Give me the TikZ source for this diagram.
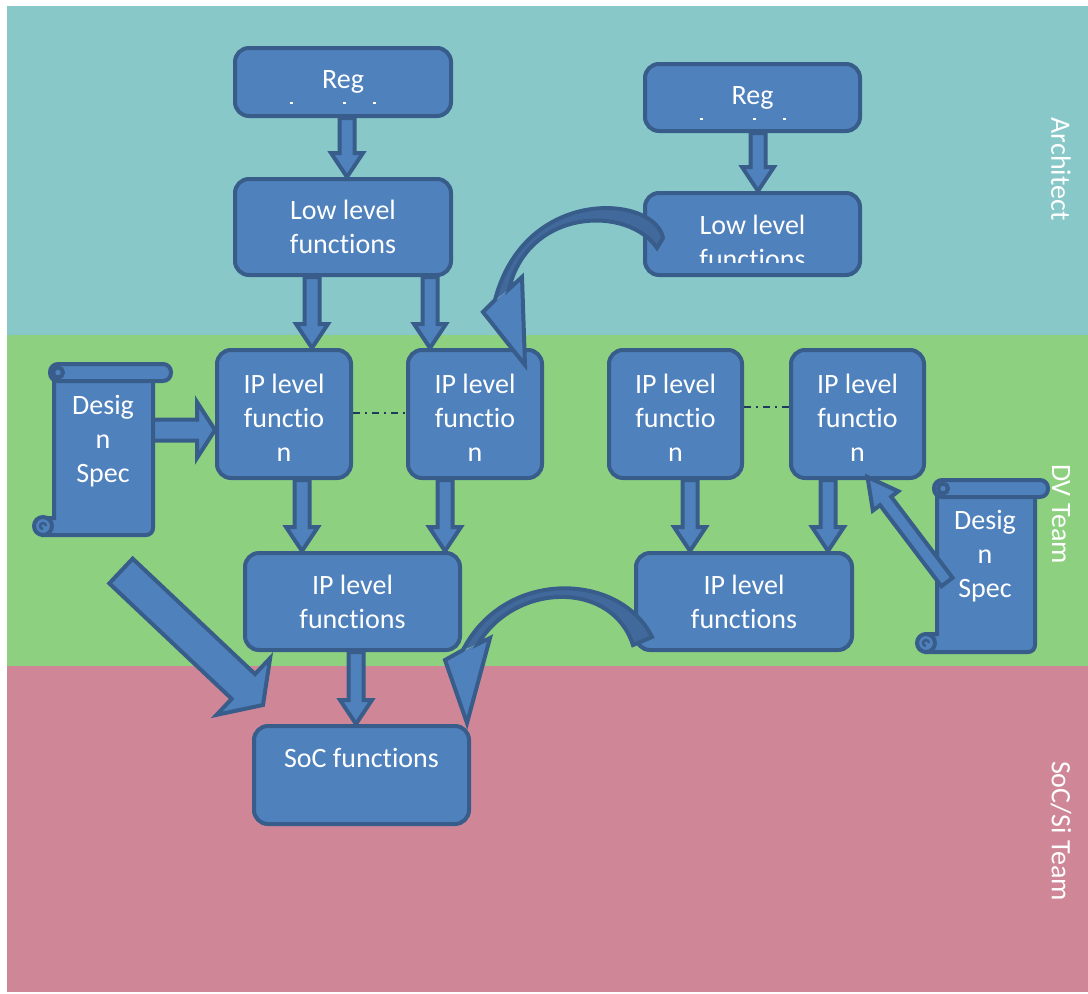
\documentclass[tikz,border=0pt]{standalone}
\usepackage{fontspec}
\setmainfont{Carlito}[Ligatures=NoCommon]
\usetikzlibrary{calc}
\definecolor{archbg}{HTML}{88C8C9}
\definecolor{dvbg}{HTML}{8DD180}
\definecolor{socbg}{HTML}{CF8798}
\definecolor{boxfill}{HTML}{4F81BD}
\definecolor{boxline}{HTML}{385D8A}
\definecolor{bandfill}{HTML}{41699C}
\definecolor{linknavy}{HTML}{1F3A5F}
\newcommand\boxfont{\fontsize{28}{34}\selectfont}
% straight block arrow: #1 tail, #2 tip, #3 half shaft, #4 half head, #5 head length
\newcommand\blockarr[5]{%
  \coordinate (ba-base) at ($(#2)!#5!(#1)$);
  \draw[blockarrow] ($(#1)!#3!90:(#2)$) -- ($(ba-base)!#3!90:(#2)$) -- ($(ba-base)!#4!90:(#2)$)
    -- (#2) -- ($(ba-base)!#4!-90:(#2)$) -- ($(ba-base)!#3!-90:(#2)$) -- ($(#1)!#3!-90:(#2)$) -- cycle;
}
\begin{document}
\begin{tikzpicture}[x=1pt,y=-1pt,
  box/.style={draw=boxline, fill=boxfill, line width=4pt, rounded corners=14pt, text=white,
    align=center, inner sep=0pt, font=\boxfont},
  blockarrow/.style={draw=boxline, fill=boxfill, line width=4pt, line join=miter},
  scrollpart/.style={draw=boxline, fill=boxfill, line width=4pt},
  curlline/.style={draw=boxline, line width=2.5pt},
  scrolltext/.style={text=white, align=center, font=\boxfont, inner sep=0pt},
  anchorbox/.style={inner sep=0pt, outer sep=0pt},
  lanelabel/.style={text=white, font=\boxfont, rotate=-90, inner sep=0pt},
  dashdotlink/.style={draw=linknavy, line width=2pt, dash pattern=on 7pt off 5pt on 2pt off 5pt},
  regmark/.style={fill=white},
]
\useasboundingbox (0,0) rectangle (1088,994);
% swim lanes
\fill[white] (0,0) rectangle (1088,994);
\fill[archbg] (7,6) rectangle (1088,335);
\fill[dvbg] (7,335) rectangle (1088,666);
\fill[socbg] (7,666) rectangle (1088,992);

% function boxes
\node[box, minimum width=216pt, minimum height=68pt] (reg1) at (343,82) {Reg};
\node[box, minimum width=216pt, minimum height=96pt] (low1) at (343,227) {Low level\\functions};
\node[box, minimum width=215pt, minimum height=67pt] (reg2) at (752.5,97.5) {Reg};
\node[box, minimum width=215pt, minimum height=82pt] (low2) at (752.5,234) {};
\begin{scope}
  \clip (643,191) rectangle (862,262);
  \node[scrolltext] (low2text) at (752.5,242) {Low level\\functions};
\end{scope}
\node[box, minimum width=134pt, minimum height=128pt] (ip1) at (284,414) {\rule{0pt}{27pt}IP level\\functio\\n};
\node[box, minimum width=134pt, minimum height=128pt] (ip2) at (475,414) {\rule{0pt}{27pt}IP level\\functio\\n};
\node[box, minimum width=133pt, minimum height=128pt] (ip3) at (675.5,414) {\rule{0pt}{27pt}IP level\\functio\\n};
\node[box, minimum width=133pt, minimum height=128pt] (ip4) at (857.5,414) {\rule{0pt}{27pt}IP level\\functio\\n};
\node[box, minimum width=215pt, minimum height=97pt] (ipf1) at (352.5,601.5) {IP level\\functions};
\node[box, minimum width=216pt, minimum height=97pt] (ipf2) at (744,601.5) {IP level\\functions};
\node[box, minimum width=215pt, minimum height=98pt] (soc) at (361.5,775) {SoC functions\\\mbox{}};

% marks of the clipped second line in the Reg boxes
\foreach \r in {reg1,reg2}{
  \fill[regmark] ([xshift=-53pt,yshift=-20pt]\r.center) rectangle ++(3,2);
  \fill[regmark] ([xshift=0pt,yshift=-20pt]\r.center) rectangle ++(3,2);
  \fill[regmark] ([xshift=30pt,yshift=-20pt]\r.center) rectangle ++(3,2);
}

% left design spec scroll
\path[scrollpart] (54,372) -- (153,372) -- (153,528) .. controls (153,532) and (150,535) .. (146,535)
  -- (43,535) -- (43,518) -- (54,518) -- cycle;
\path[scrollpart] (43,526) circle[radius=9pt];
\draw[curlline] (46,526) arc[start angle=0, end angle=270, radius=3pt];
\path[scrollpart, rounded corners=8pt] (50,364) rectangle (171,381);
\path[scrollpart] (58,372.5) circle[radius=5pt];
\node[anchorbox, minimum width=99pt, minimum height=163pt] (specL) at (103.5,453.5) {};
\node[scrolltext] (specLtext) at (103,441) {Desig\\n\\Spec};

% right design spec scroll
\path[scrollpart] (937,488) -- (1035,488) -- (1035,645) .. controls (1035,649) and (1032,652) .. (1028,652)
  -- (926,652) -- (926,634) -- (937,634) -- cycle;
\path[scrollpart] (926,643) circle[radius=9pt];
\draw[curlline] (929,643) arc[start angle=0, end angle=270, radius=3pt];
\path[scrollpart, rounded corners=8pt] (934,480) rectangle (1048,497);
\path[scrollpart] (943,488.5) circle[radius=5pt];
\node[anchorbox, minimum width=98pt, minimum height=164pt] (specR) at (986,570) {};
\node[scrolltext] (specRtext) at (985,556) {Desig\\n\\Spec};

% vertical block arrows
\coordinate (v1s) at (reg1.south -| 347,0);  \coordinate (v1e) at (low1.north -| 347,0);
\coordinate (v2s) at (reg2.south -| 758,0);  \coordinate (v2e) at (low2.north -| 758,0);
\coordinate (v3s) at (low1.south -| 312,0);  \coordinate (v3e) at (ip1.north -| 312,0);
\coordinate (v4s) at (low1.south -| 430,0);  \coordinate (v4e) at (ip2.north -| 430,0);
\coordinate (v5s) at (ip1.south -| 302,0);   \coordinate (v5e) at (ipf1.north -| 302,0);
\coordinate (v6s) at (ip2.south -| 445,0);   \coordinate (v6e) at (ipf1.north -| 445,0);
\coordinate (v7s) at (ip3.south -| 690,0);   \coordinate (v7e) at (ipf2.north -| 690,0);
\coordinate (v8s) at (ip4.south -| 828,0);   \coordinate (v8e) at (ipf2.north -| 828,0);
\coordinate (v9s) at (ipf1.south -| 356,0);  \coordinate (v9e) at (soc.north -| 356,0);
\foreach \i in {1,...,9}{\blockarr{v\i s}{v\i e}{7.5pt}{16pt}{24pt}}

% design spec into the first IP function
\coordinate (hs) at (specL.east |- 0,430);
\coordinate (he) at (ip1.west |- 0,430);
\blockarr{hs}{he}{10.5pt}{28pt}{18pt}

% links between IP level functions
\draw[dashdotlink] (ip1.east |- 0,413) -- (ip2.west |- 0,413);
\draw[dashdotlink] (ip3.east |- 0,407) -- (ip4.west |- 0,407);

% curved arrow from the right low level functions to the second IP function
\fill[bandfill] (663,238) .. controls (655,195) and (525,185) .. (495,300) -- (509,289)
  .. controls (528,208) and (628,205) .. (657,248) -- cycle;
\fill[boxfill] (483,312) -- (525,365) -- (522,277) -- cycle;
\draw[boxline, line width=4pt, line join=miter] (663,238) .. controls (655,195) and (525,185) .. (495,300)
  -- (483,312) -- (525,365) -- (522,277) -- (509,289)
  .. controls (528,208) and (628,205) .. (657,248) -- cycle;

% curved arrow from the right IP level functions to the SoC functions
\fill[bandfill] (652,637) .. controls (620,572) and (505,568) .. (463,650) -- (478,644)
  .. controls (515,582) and (612,580) .. (633,645) -- cycle;
\fill[boxfill] (445,660) -- (467,723) -- (490,638) -- cycle;
\draw[boxline, line width=4pt, line join=miter] (652,637) .. controls (620,572) and (505,568) .. (463,650)
  -- (445,660) -- (467,723) -- (490,638) -- (478,644)
  .. controls (515,582) and (612,580) .. (633,645) -- cycle;

% diagonal arrows
\coordinate (dtail) at (121,571);
\coordinate (dtip) at ([xshift=11pt,yshift=19pt]soc.north west);
\blockarr{dtail}{dtip}{17pt}{39pt}{27pt}
\coordinate (rtail) at ([xshift=10pt,yshift=-12pt]specR.west);
\coordinate (rtip) at ([xshift=10pt,yshift=3pt]ip4.south);
\blockarr{rtail}{rtip}{7pt}{16pt}{30pt}

% lane titles
\node[lanelabel] (laneArch) at (1061,169) {Architect};
\node[lanelabel] (laneDV) at (1061,514) {DV Team};
\node[lanelabel] (laneSoC) at (1061,831) {SoC/Si Team};
\end{tikzpicture}
\end{document}
